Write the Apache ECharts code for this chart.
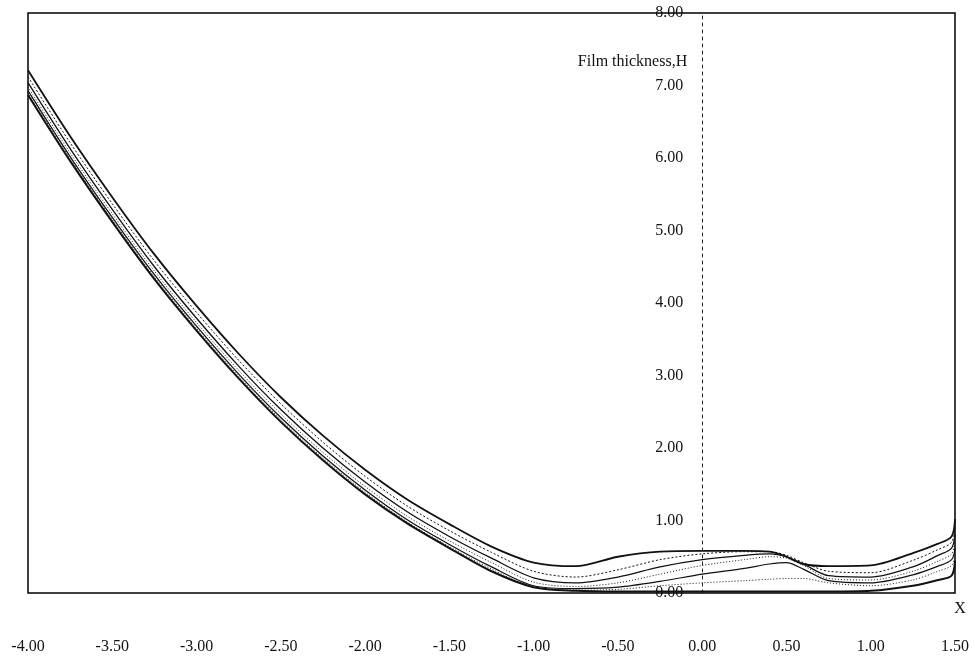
<!DOCTYPE html>
<html>
<head>
<meta charset="utf-8">
<script src="https://cdn.jsdelivr.net/npm/echarts@6/dist/echarts.min.js"></script>
<style>
html,body{margin:0;padding:0;background:#fff;}
#chart{width:975px;height:665px;}
</style>
</head>
<body>
<div id="chart"></div>
<script>
// X positions (dimensionless coordinate X)
const xs = [-4,-3.75,-3.5,-3.25,-3,-2.75,-2.5,-2.25,-2,-1.75,-1.5,-1.25,-1,-0.75,-0.5,-0.25,0,0.25,0.4,0.5,0.6,0.75,1,1.25,1.4,1.48,1.5];

// Film thickness H profiles
const hA = [7.21,6.30,5.46,4.67,3.96,3.30,2.70,2.17,1.70,1.29,0.95,0.64,0.42,0.37,0.50,0.57,0.58,0.58,0.57,0.50,0.40,0.37,0.38,0.55,0.68,0.78,1.02];
const hC = [7.12,6.21,5.37,4.58,3.87,3.21,2.61,2.08,1.61,1.20,0.86,0.56,0.30,0.22,0.32,0.46,0.54,0.57,0.57,0.52,0.42,0.30,0.28,0.45,0.60,0.70,0.90];
const hD = [7.04,6.13,5.29,4.50,3.79,3.13,2.53,2.00,1.53,1.12,0.78,0.48,0.21,0.14,0.22,0.36,0.46,0.52,0.54,0.50,0.40,0.24,0.22,0.36,0.52,0.62,0.82];
const hE = [6.98,6.07,5.23,4.44,3.73,3.07,2.47,1.94,1.47,1.06,0.72,0.42,0.15,0.09,0.14,0.26,0.38,0.46,0.50,0.48,0.38,0.20,0.18,0.30,0.44,0.54,0.72];
const hF = [6.93,6.02,5.18,4.39,3.68,3.02,2.42,1.89,1.42,1.01,0.67,0.36,0.10,0.06,0.08,0.16,0.26,0.34,0.40,0.42,0.33,0.17,0.14,0.25,0.37,0.46,0.62];
const hG = [6.90,5.99,5.15,4.36,3.65,2.99,2.39,1.86,1.39,0.98,0.64,0.33,0.08,0.04,0.05,0.10,0.14,0.17,0.19,0.20,0.20,0.14,0.10,0.18,0.30,0.38,0.52];
const hB = [6.87,5.96,5.12,4.33,3.62,2.96,2.36,1.83,1.36,0.96,0.62,0.30,0.08,0.03,0.02,0.02,0.02,0.02,0.02,0.02,0.02,0.02,0.03,0.10,0.18,0.24,0.45];

const xAxisName = "X";
const yAxisName = "Film thickness,H";

const profiles = [
  {data: hA, width: 1.8, type: 'solid'},
  {data: hC, width: 1.0, type: [2,2]},
  {data: hD, width: 1.3, type: 'solid'},
  {data: hE, width: 1.0, type: [1,2]},
  {data: hF, width: 1.2, type: 'solid'},
  {data: hG, width: 1.0, type: [1,2]},
  {data: hB, width: 2.0, type: 'solid'}
];

const W = 975, H = 665;
const gridL = 28, gridR = 20, gridT = 13, gridB = 72;
const xMin = -4, xMax = 1.5;
// pixel distance from the grid's left edge to X = 0, used to place the y axis there
const zeroOffset = (0 - xMin) / (xMax - xMin) * (W - gridL - gridR);

const font = "'Liberation Serif', 'DejaVu Serif', serif";
const chart = echarts.init(document.getElementById('chart'), null, {renderer: 'canvas'});
chart.setOption({
  animation: false,
  backgroundColor: '#fff',
  grid: {left: gridL, right: gridR, top: gridT, bottom: gridB, show: true, borderColor: '#000', borderWidth: 1.5, containLabel: false, outerBoundsMode: 'none'},
  xAxis: {
    type: 'value', min: xMin, max: xMax, interval: 0.5,
    name: xAxisName, nameLocation: 'end', nameGap: 5,
    nameTextStyle: {fontFamily: font, fontSize: 16, color: '#111', align: 'center', verticalAlign: 'top', padding: [8,0,0,0]},
    axisLine: {show: false, onZero: false},
    axisTick: {show: false},
    splitLine: {show: false},
    axisLabel: {margin: 46, fontFamily: font, fontSize: 16, color: '#111', formatter: v => v.toFixed(2)}
  },
  yAxis: {
    type: 'value', min: 0, max: 8, interval: 1, position: 'left', offset: -zeroOffset,
    name: yAxisName, nameLocation: 'end', nameGap: -49,
    nameTextStyle: {fontFamily: font, fontSize: 16, color: '#111', align: 'right', verticalAlign: 'middle', padding: [0,15,0,0]},
    axisLine: {show: true, onZero: false, lineStyle: {color: '#222', width: 1, type: [3,4]}},
    axisTick: {show: false},
    splitLine: {show: false},
    axisLabel: {margin: 19, fontFamily: font, fontSize: 16, color: '#111', formatter: v => v.toFixed(2)}
  },
  series: profiles.map(p => ({
    type: 'line',
    data: xs.map((x, i) => [x, p.data[i]]),
    smooth: 0.3,
    symbol: 'none',
    lineStyle: {color: '#111', width: p.width, type: p.type}
  }))
});
</script>
</body>
</html>
